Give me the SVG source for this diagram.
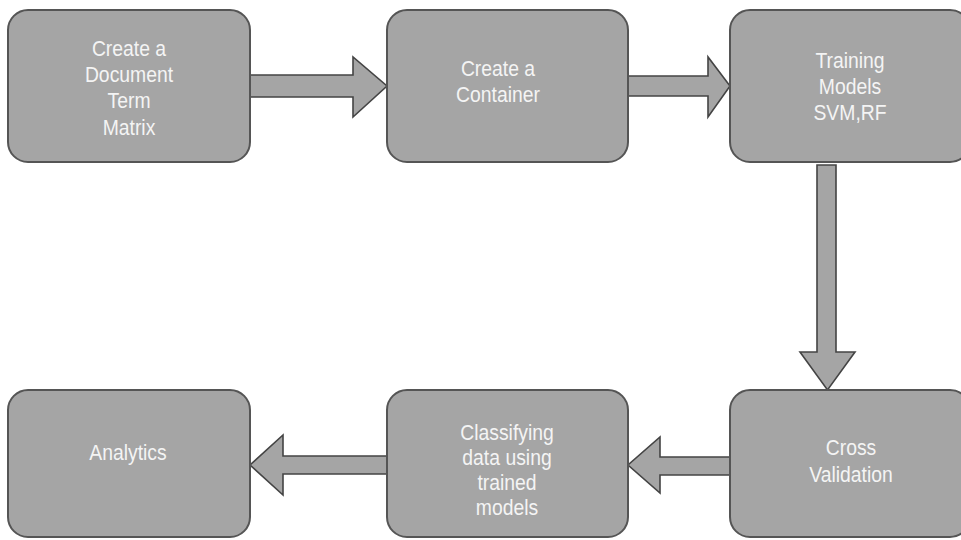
<svg xmlns="http://www.w3.org/2000/svg" width="961" height="540" viewBox="0 0 961 540">
<style>
.box{fill:#a5a5a5;stroke:#555;stroke-width:2}
.arr{fill:#a5a5a5;stroke:#444;stroke-width:1.6;stroke-linejoin:miter}
.t{font-family:"Liberation Sans",Arial,sans-serif;font-size:22px;fill:#f4f4f4;text-anchor:middle}
</style>
<rect width="961" height="540" fill="#ffffff"/>
<g id="connectors">
<path class="arr" d="M250,75 L353,75 L353,57 L387,86 L353,117 L353,97 L250,97 Z"/>
<path class="arr" d="M628,76 L708,76 L708,57 L730,86 L708,117 L708,96 L628,96 Z"/>
<path class="arr" d="M817,165 L836,165 L836,352 L855,352 L827.5,390 L800,352 L817,352 Z"/>
<path class="arr" d="M730,457 L660,457 L660,437 L628,465 L660,493 L660,475 L730,475 Z"/>
<path class="arr" d="M387,456 L283,456 L283,435 L250,465 L283,495 L283,474 L387,474 Z"/>
</g>
<g id="n1">
<rect class="box" x="8" y="10" width="242" height="152" rx="20"/>
<g transform="translate(129 0) scale(0.88 1)">
<text class="t" x="0" y="56">Create a</text>
<text class="t" x="0" y="82">Document</text>
<text class="t" x="0" y="108">Term</text>
<text class="t" x="0" y="135">Matrix</text>
</g>
</g>
<g id="n2">
<rect class="box" x="387" y="10" width="241" height="152" rx="20"/>
<g transform="translate(498 0) scale(0.88 1)">
<text class="t" x="0" y="76">Create a</text>
<text class="t" x="0" y="102">Container</text>
</g>
</g>
<g id="n3">
<rect class="box" x="730" y="10" width="240" height="152" rx="20"/>
<g transform="translate(850 0) scale(0.88 1)">
<text class="t" x="0" y="68">Training</text>
<text class="t" x="0" y="94">Models</text>
<text class="t" x="0" y="120">SVM,RF</text>
</g>
</g>
<g id="n4">
<rect class="box" x="730" y="390" width="240" height="147" rx="20"/>
<g transform="translate(851 0) scale(0.88 1)">
<text class="t" x="0" y="455">Cross</text>
<text class="t" x="0" y="482">Validation</text>
</g>
</g>
<g id="n5">
<rect class="box" x="387" y="390" width="241" height="147" rx="20"/>
<g transform="translate(507 0) scale(0.88 1)">
<text class="t" x="0" y="440">Classifying</text>
<text class="t" x="0" y="465">data using</text>
<text class="t" x="0" y="490">trained</text>
<text class="t" x="0" y="515">models</text>
</g>
</g>
<g id="n6">
<rect class="box" x="8" y="390" width="242" height="147" rx="20"/>
<g transform="translate(128 0) scale(0.88 1)">
<text class="t" x="0" y="460">Analytics</text>
</g>
</g>
</svg>
